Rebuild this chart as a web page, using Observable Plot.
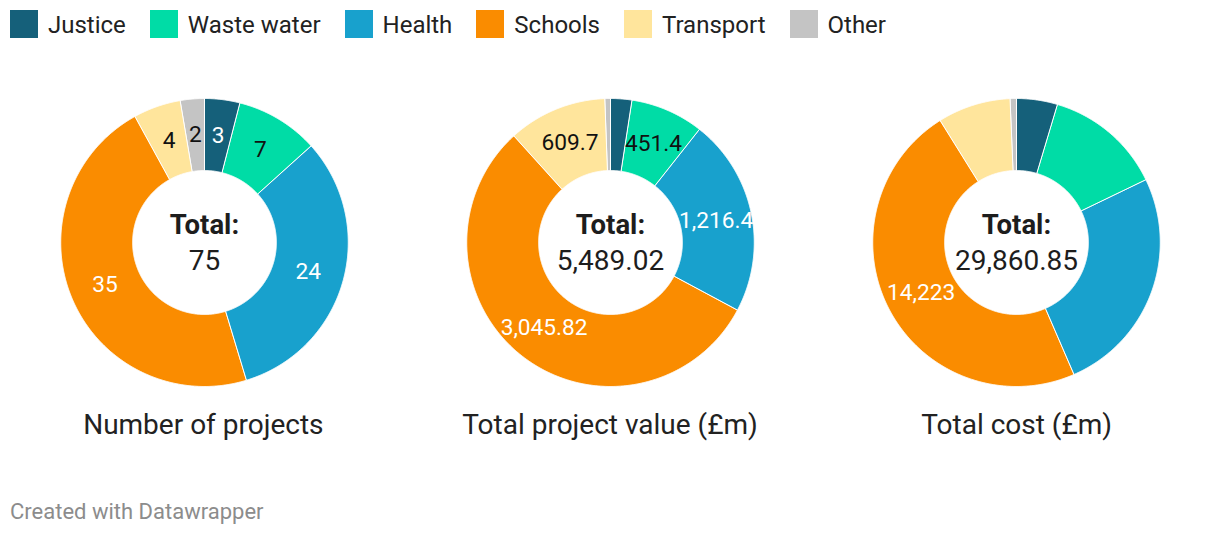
<!DOCTYPE html>
<html><head><meta charset="utf-8">
<script src="https://cdn.jsdelivr.net/npm/d3@7"></script>
<script src="https://cdn.jsdelivr.net/npm/@observablehq/plot@0.6"></script>
<style>
html,body{margin:0;padding:0;background:#fff;}
body{width:1220px;height:536px;font-family:Roboto,"Noto Sans",sans-serif;color:#1d1d1d;overflow:hidden;}
#legend{height:50px;display:flex;align-items:flex-start;padding:10px 0 0 10px;box-sizing:border-box;}
.item{display:flex;align-items:center;margin-right:24px;}
.sw{width:28px;height:28px;margin-right:10px;}
.lt{font-size:24px;line-height:28px;color:#222;position:relative;top:1px;}
#chart{height:350px;}
#titles{display:flex;margin-top:10px;height:30px;}
#titles div{width:406.67px;text-align:center;font-size:28px;line-height:30px;color:#222;}
#footer{position:absolute;left:10px;top:500px;font-size:22px;line-height:24px;color:#8c8c8c;}
</style></head><body>
<div id="legend"></div>
<div id="chart"></div>
<div id="titles"></div>
<div id="footer">Created with Datawrapper</div>
<script>
// ---- data ----
const categories = ["Justice", "Waste water", "Health", "Schools", "Transport", "Other"];
const colors = ["#15607a", "#00dca6", "#18a1cd", "#fa8c00", "#ffe59c", "#c4c4c4"];
const darkCategories = ["Justice", "Health", "Schools"];
const measures = ["Number of projects", "Total project value (£m)", "Total cost (£m)"];
const numberOfProjects = [3, 7, 24, 35, 4, 2];
const totalProjectValue = [133.4, 451.4, 1216.4, 3045.82, 609.7, 32.3];
const totalCost = [1385, 3948, 7654, 14223, 2450, 200.85];
const totals = [75, 5489.02, 29860.85];
// which slices carry a value label
const labelsProjects = ["Justice", "Waste water", "Health", "Schools", "Transport", "Other"];
const labelsValue = ["Waste water", "Health", "Schools", "Transport"];
const labelsCost = ["Schools"];

const seriesValues = [numberOfProjects, totalProjectValue, totalCost];
const seriesLabels = [labelsProjects, labelsValue, labelsCost];

// ---- layout ----
const W = 1220, H = 350, CY = 192;
const R = 144, r = 72;

// legend
const legend = document.getElementById("legend");
categories.forEach((c, i) => {
  const it = document.createElement("div"); it.className = "item";
  it.innerHTML = `<div class="sw" style="background:${colors[i]}"></div><div class="lt">${c}</div>`;
  legend.appendChild(it);
});
const titles = document.getElementById("titles");
measures.forEach(m => { const d = document.createElement("div"); d.textContent = m; titles.appendChild(d); });

// build slice polygons and labels from d3.pie
const polys = [], labels = [], centers = [];
const fmt = d3.format(",");
measures.forEach((m, mi) => {
  const rows = categories.map((c, i) => ({category: c, value: seriesValues[mi][i]}));
  const arcs = d3.pie().sort(null).value(d => d.value)(rows);
  arcs.forEach((a, k) => {
    const id = m + "|" + a.data.category;
    const n = Math.max(2, Math.ceil((a.endAngle - a.startAngle) / 0.005));
    for (let j = 0; j <= n; j++) {
      const t = a.startAngle + (a.endAngle - a.startAngle) * j / n;
      polys.push({measure: m, id, category: a.data.category, x: R * Math.sin(t), y: R * Math.cos(t)});
    }
    for (let j = n; j >= 0; j--) {
      const t = a.startAngle + (a.endAngle - a.startAngle) * j / n;
      polys.push({measure: m, id, category: a.data.category, x: r * Math.sin(t), y: r * Math.cos(t)});
    }
    if (seriesLabels[mi].includes(a.data.category)) {
      const mid = (a.startAngle + a.endAngle) / 2, rm = (R + r) / 2;
      labels.push({measure: m, category: a.data.category, x: rm * Math.sin(mid), y: rm * Math.cos(mid),
        text: fmt(a.data.value), dark: darkCategories.includes(a.data.category)});
    }
  });
  centers.push({measure: m, total: fmt(totals[mi])});
});

const chart = Plot.plot({
  width: W, height: H,
  marginTop: 0, marginBottom: 0, marginLeft: 0, marginRight: 0,
  style: {fontFamily: "Roboto, sans-serif", background: "#fff"},
  fx: {domain: measures, padding: 0, axis: null},
  x: {domain: [-W / 6, W / 6], axis: null},
  y: {domain: [-(H - CY), CY], axis: null},
  color: {domain: categories, range: colors},
  marks: [
    Plot.line(polys, {fx: "measure", x: "x", y: "y", z: "id", fill: "category",
      stroke: "#fff", strokeWidth: 1, curve: "linear-closed"}),
    Plot.text(labels.filter(d => d.dark), {fx: "measure", x: "x", y: "y", text: "text",
      fill: "#fff", fontSize: 22.7}),
    Plot.text(labels.filter(d => !d.dark), {fx: "measure", x: "x", y: "y", text: "text",
      fill: "#111", fontSize: 22.7}),
    Plot.text(centers, {fx: "measure", x: 0, y: 0, text: () => "Total:", dy: -17,
      fontWeight: "bold", fontSize: 27.5, fill: "#1d1d1d"}),
    Plot.text(centers, {fx: "measure", x: 0, y: 0, text: "total", dy: 19,
      fontSize: 28, fill: "#1d1d1d"})
  ]
});
document.getElementById("chart").appendChild(chart);
</script>
</body></html>
